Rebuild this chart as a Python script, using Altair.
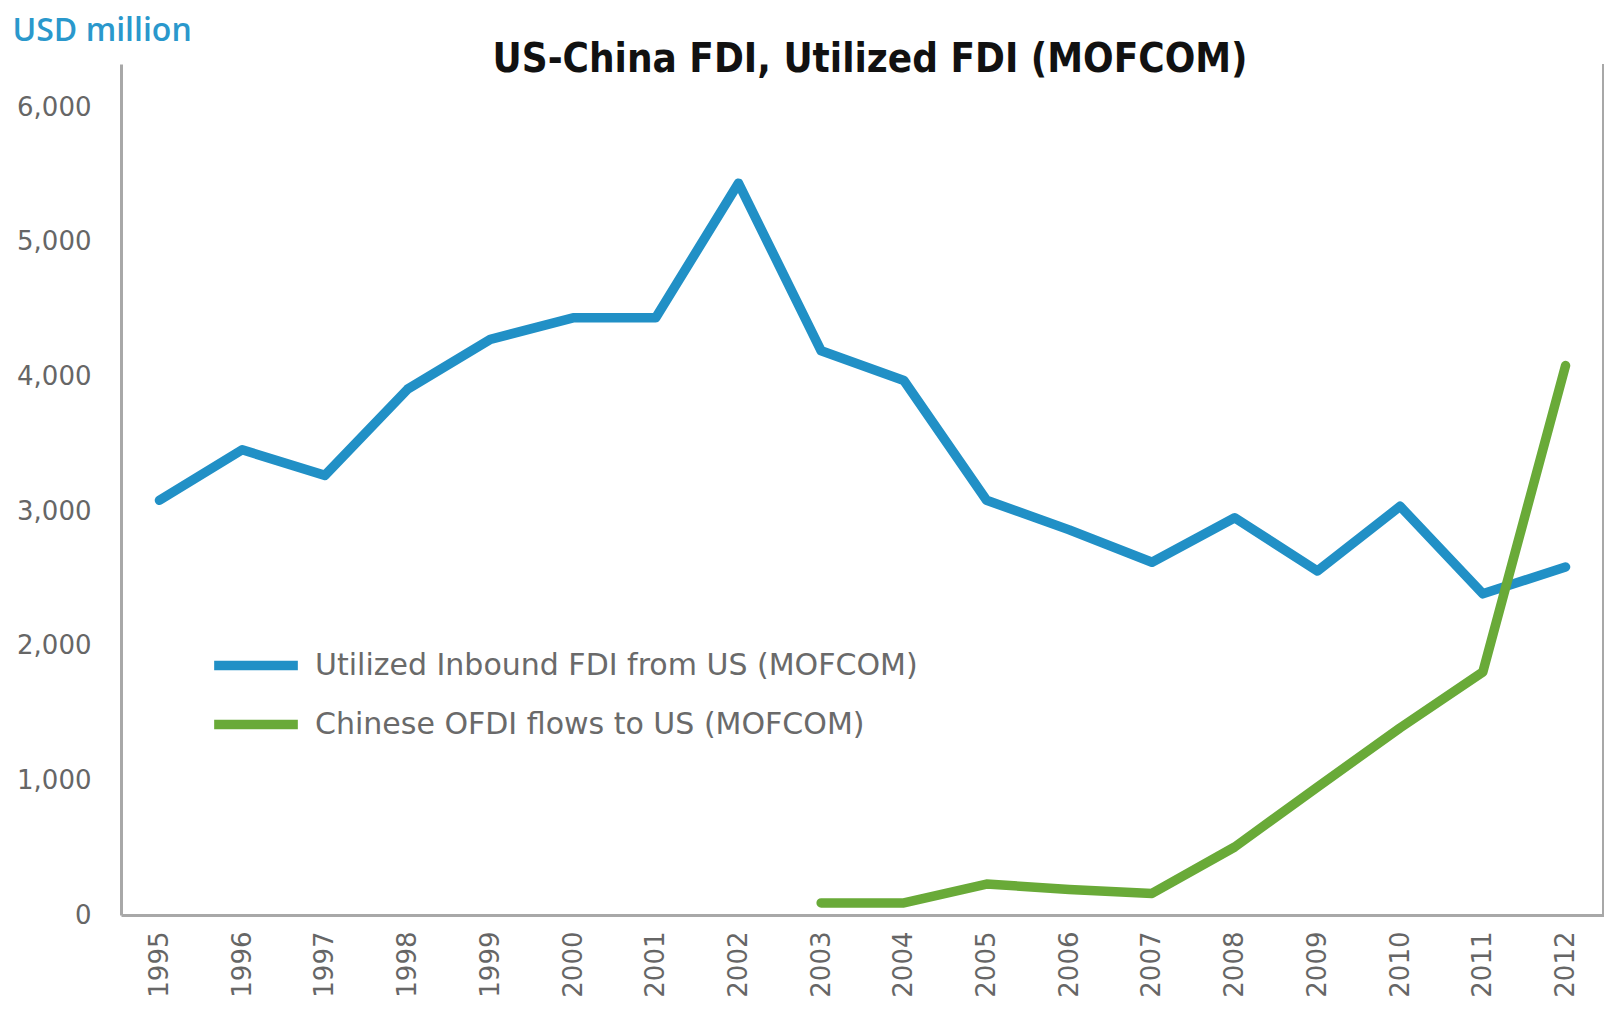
import altair as alt
import pandas as pd

years = [str(y) for y in range(1995, 2013)]
inbound_us = [3080, 3455, 3265, 3905, 4275, 4435, 4435, 5435, 4190, 3970,
              3080, 2860, 2620, 2950, 2555, 3035, 2385, 2585]
ofdi_years = [str(y) for y in range(2003, 2013)]
ofdi_us = [90, 90, 230, 190, 160, 505, 950, 1390, 1805, 4080]

series_names = ["Utilized Inbound FDI from US (MOFCOM)",
                "Chinese OFDI flows to US (MOFCOM)"]
series_colors = ["#2190c6", "#69aa38"]
y_ticks = [0, 1000, 2000, 3000, 4000, 5000, 6000]
title_text = ["US-China FDI, Utilized FDI (MOFCOM)"]

rows = []
for y, v in zip(years, inbound_us):
    rows.append({"year": y, "value": v, "series": series_names[0]})
for y, v in zip(ofdi_years, ofdi_us):
    rows.append({"year": y, "value": v, "series": series_names[1]})
df = pd.DataFrame(rows)

W, H = 1483, 851
label_font = "DejaVu Sans"
text_font = "Open Sans"

lines = alt.Chart(df).mark_line(
    strokeWidth=9.5, strokeCap="round", strokeJoin="round"
).encode(
    x=alt.X("year:O", sort=years,
            scale=alt.Scale(type="point", padding=0.465),
            axis=alt.Axis(title=None, labelAngle=-90, labelFont=label_font,
                          labelFontSize=26, labelColor="#666666",
                          labelPadding=16, ticks=False, domainColor="#a8a8a8",
                          domainWidth=3, labelBaseline="middle", labelAlign="right")),
    y=alt.Y("value:Q", scale=alt.Scale(domain=[0, 6320], nice=False, zero=True),
            axis=alt.Axis(values=y_ticks, format=",d", grid=False, ticks=False,
                          labelFont=label_font, labelFontSize=26,
                          labelColor="#666666", labelPadding=30,
                          domainColor="#a8a8a8", domainWidth=3,
                          title="USD million", titleAngle=0, titleAlign="left",
                          titleBaseline="alphabetic", titleX=-109, titleY=-24,
                          titleFont=text_font, titleFontSize=32,
                          titleFontWeight=600, titleColor="#2a98cc")),
    color=alt.Color("series:N",
                    scale=alt.Scale(domain=series_names, range=series_colors),
                    legend=alt.Legend(title=None, orient="none", legendX=88,
                                      legendY=572, symbolType="stroke",
                                      symbolSize=7000, symbolStrokeWidth=9.5,
                                      clipHeight=59, rowPadding=0, labelOffset=12,
                                      labelFont=label_font, labelFontSize=30,
                                      labelColor="#6a6a6a", labelLimit=900)),
    detail="series:N",
)

right_rule = alt.Chart(df).mark_rule(color="#a8a8a8", strokeWidth=3).encode(
    x=alt.value(W), y=alt.value(0), y2=alt.value(H)
)

title = alt.Chart(pd.DataFrame({"t": title_text})).mark_text(
    font='"DejaVu Sans Condensed", Lato', fontSize=40, fontWeight="bold",
    color="#111111", align="center", baseline="alphabetic"
).encode(text="t:N", x=alt.value(749), y=alt.value(8))

chart = alt.layer(lines, right_rule, title).properties(
    width=W, height=H,
    padding={"left": 113, "top": 56, "right": 0, "bottom": 86},
    autosize=alt.AutoSizeParams(type="none"),
).configure(background="white").configure_view(stroke=None)

chart.save("out.html", embed_options={"renderer": "svg", "actions": False})
